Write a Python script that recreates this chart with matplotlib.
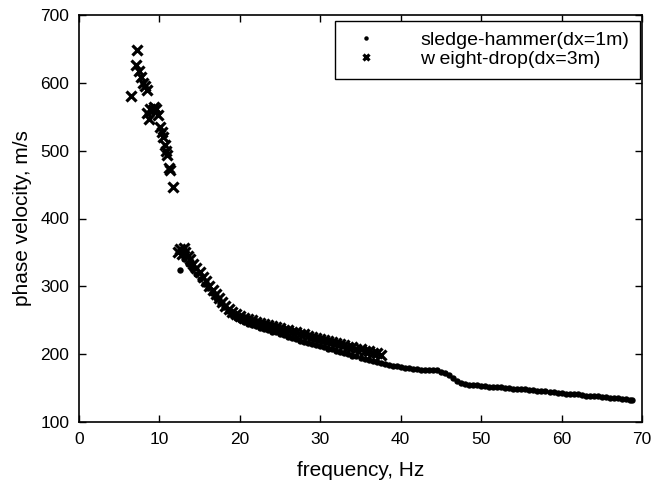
import matplotlib
matplotlib.use('Agg')
import matplotlib.pyplot as plt

plt.rcParams['font.family'] = ['Liberation Sans', 'DejaVu Sans']

# sledge-hammer (dx=1m)
sh_freq = [12.6,
    13.0, 13.5, 14.0, 14.5, 15.0, 15.5, 16.0, 16.5, 17.0, 17.5,
    18.0, 18.5, 19.0, 19.5, 20.0, 20.5, 21.0, 21.5, 22.0, 22.5,
    23.0, 23.5, 24.0, 24.5, 25.0, 25.5, 26.0, 26.5, 27.0, 27.5,
    28.0, 28.5, 29.0, 29.5, 30.0, 30.5, 31.0, 31.5, 32.0, 32.5,
    33.0, 33.5, 34.0, 34.5, 35.0, 35.5, 36.0, 36.5, 37.0, 37.5,
    38.0, 38.5, 39.0, 39.5, 40.0, 40.5, 41.0, 41.5, 42.0, 42.5,
    43.0, 43.5, 44.0, 44.5, 45.0, 45.5, 46.0, 46.5, 47.0, 47.5,
    48.0, 48.5, 49.0, 49.5, 50.0, 50.5, 51.0, 51.5, 52.0, 52.5,
    53.0, 53.5, 54.0, 54.5, 55.0, 55.5, 56.0, 56.5, 57.0, 57.5,
    58.0, 58.5, 59.0, 59.5, 60.0, 60.5, 61.0, 61.5, 62.0, 62.5,
    63.0, 63.5, 64.0, 64.5, 65.0, 65.5, 66.0, 66.5, 67.0, 67.5,
    68.0, 68.5, 68.8]
sh_vel = [324,
    340, 333, 325, 318, 311, 304, 297, 290, 283, 276,
    269, 263, 258, 254, 250, 247, 245, 243, 241, 239,
    237, 235, 233, 232, 230, 228, 226, 224, 222, 220,
    218, 217, 215, 213, 212, 210, 208, 207, 205, 203,
    202, 200, 198, 197, 195, 193, 192, 190, 189, 187,
    186, 184, 183, 182, 181, 180, 179, 178, 178, 177,
    177, 177, 176, 176, 174, 172, 169, 165, 161, 158,
    156, 155, 155, 154, 153, 153, 152, 152, 151, 151,
    150, 150, 149, 149, 148, 148, 147, 147, 146, 146,
    145, 144, 144, 143, 143, 142, 142, 141, 141, 140,
    139, 139, 138, 138, 137, 137, 136, 136, 135, 134,
    134, 133, 132]

# weight-drop (dx=3m)
wd_freq = [6.46, 7.08, 7.24, 7.49, 7.66, 8.0, 8.24, 8.41, 8.5, 8.73,
    8.82, 9.16, 9.3, 9.57, 9.85, 10.06, 10.27, 10.47, 10.68, 10.8,
    10.97, 11.25, 11.3, 11.64,
    12.3, 12.6, 12.8, 13.0, 13.2, 13.5, 13.8, 14.2, 14.6, 15.0,
    15.4, 15.8, 16.2, 16.6, 17.0, 17.4, 17.8, 18.2, 18.6, 19.0,
    19.5, 20.0, 20.5, 21.0, 21.5, 22.0, 22.5, 23.0, 23.5, 24.0,
    24.5, 25.0, 25.5, 26.0, 26.5, 27.0, 27.5, 28.0, 28.5, 29.0,
    29.5, 30.0, 30.5, 31.0, 31.5, 32.0, 32.5, 33.0, 33.5, 34.0,
    34.5, 35.0, 35.5, 36.0, 36.5, 37.0, 37.5]
wd_vel = [580, 626, 649, 618, 609, 600, 595, 589, 555, 546,
    562, 560, 565, 561, 553, 535, 528, 520, 508, 500,
    494, 475, 471, 447,
    350, 355, 348, 356, 350, 345, 340, 333, 327, 321,
    314, 308, 301, 295, 289, 283, 277, 271, 266, 262,
    259, 256, 254, 252, 250, 248, 246, 244, 243, 241,
    240, 238, 236, 235, 233, 232, 230, 229, 227, 226,
    224, 222, 221, 219, 218, 216, 215, 213, 211, 210,
    208, 207, 205, 204, 202, 201, 199]

fig = plt.figure(figsize=(6.53, 4.82), dpi=100)
ax = fig.add_axes([79/653, 60/482, 563/653, 407/482])

ax.plot(sh_freq, sh_vel, 'o', color='black', markersize=4.6, markeredgewidth=0,
        label='sledge-hammer(dx=1m)')
ax.plot(wd_freq, wd_vel, 'x', color='black', markersize=7, markeredgewidth=2.3,
        label='w eight-drop(dx=3m)')

ax.set_xlim(0, 70)
ax.set_ylim(100, 700)
ax.set_xticks(range(0, 71, 10))
ax.set_yticks(range(100, 701, 100))
ax.tick_params(direction='in', top=True, right=True, length=5, width=1,
               labelsize=12.5, pad=7)
for s in ax.spines.values():
    s.set_linewidth(1.2)

ax.set_xlabel('frequency, Hz', fontsize=15, labelpad=10)
ax.set_ylabel('phase velocity, m/s', fontsize=15, labelpad=6)

leg = ax.legend(loc='upper right', bbox_to_anchor=(640/653, 461/482),
                bbox_transform=fig.transFigure, borderaxespad=0,
                fancybox=False, edgecolor='black', framealpha=1,
                fontsize=14, handlelength=2.1, handletextpad=1.75,
                borderpad=0.55, labelspacing=0.05, markerscale=0.7)
leg.get_frame().set_linewidth(1.0)

fig.savefig('out.png', dpi=100)
